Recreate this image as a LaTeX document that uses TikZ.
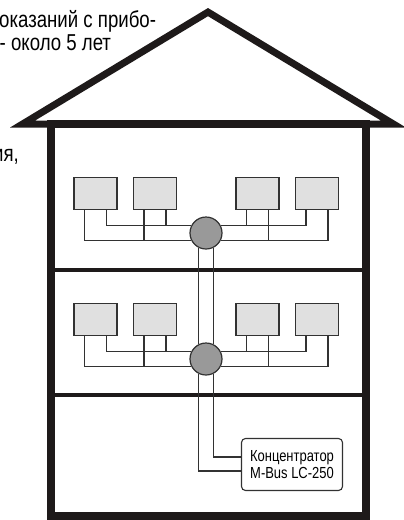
\documentclass[tikz,border=0pt]{standalone}
\usepackage{fontspec}
\newfontfamily\narrowsans[FakeStretch=0.81]{Liberation Sans}
\usetikzlibrary{calc}

\definecolor{wall}{RGB}{30,26,26}
\definecolor{wire}{RGB}{50,50,50}
\definecolor{meterfill}{RGB}{224,224,224}
\definecolor{hubfill}{RGB}{153,153,153}

\begin{document}
\begin{tikzpicture}[x=1pt, y=-1pt,
		meter/.style={draw=wire, fill=meterfill, line width=1.1pt, minimum width=43pt, minimum height=32pt, inner sep=0pt},
		hub/.style={circle, draw=wire, fill=hubfill, line width=1.2pt, minimum size=32pt, inner sep=0pt},
		cable/.style={draw=wire, line width=1.2pt},
		conc/.style={draw=wire, fill=white, rounded corners=4pt, line width=1.1pt, minimum width=101pt, minimum height=52pt, inner sep=0pt, align=center, font=\narrowsans\fontsize{16}{16.5}\selectfont},
		note/.style={inner sep=0pt, font=\narrowsans\fontsize{23}{23}\selectfont}]
		\useasboundingbox (0,0) rectangle (404,520);
		\clip (0,0) rectangle (404,520);

		% text cut off at the left edge
		\node [note, anchor=base west] (txt1) at (-1,27) {оказаний с прибо-};
		\node [note, anchor=base west] (txt2) at (-0.5,50) {- около 5 лет};
		\node [note, anchor=base east] (txt3) at (19,161) {ия,};

		% roof and walls
		\coordinate (eaveL) at (22.6,124);
		\coordinate (ridge) at (208,12.1);
		\coordinate (eaveR) at (393.4,124);
		\draw [wall, line width = 7pt, line join = miter] (eaveL) -- (ridge) -- (eaveR) -- cycle;
		\draw [wall, line width = 8pt] (51,124) rectangle (366,516);
		\draw [wall, line width = 4.5pt] (51,270) -- (366,270);
		\draw [wall, line width = 4.5pt] (51,395) -- (366,395);

		% two floors of meters
		\foreach \f/\y in {1/0, 2/126} {
			\node [meter] (m1\f) at (95.5,193.5+\y) {};
			\node [meter] (m2\f) at (155,193.5+\y) {};
			\node [meter] (m3\f) at (257.5,193.5+\y) {};
			\node [meter] (m4\f) at (317,193.5+\y) {};
			\node [hub] (hub\f) at (206,233+\y) {};

			\draw [cable] ([xshift = -11pt]m1\f.south) |- (hub\f.207);
			\draw [cable] ([xshift = 11pt]m1\f.south) |- (hub\f.153);
			\draw [cable] ([xshift = -11pt]m2\f.south) |- (hub\f.207);
			\draw [cable] ([xshift = 11pt]m2\f.south) |- (hub\f.153);
			\draw [cable] ([xshift = -11pt]m3\f.south) |- (hub\f.27);
			\draw [cable] ([xshift = 11pt]m3\f.south) |- (hub\f.333);
			\draw [cable] ([xshift = -11pt]m4\f.south) |- (hub\f.27);
			\draw [cable] ([xshift = 11pt]m4\f.south) |- (hub\f.333);
		}

		\draw [cable] (hub1.243) -- (hub2.117);
		\draw [cable] (hub1.297) -- (hub2.63);

		% concentrator in the basement
		\node [conc] (conc) at (292,464.5) {Концентратор\\M-Bus LC-250};
		\draw [cable] (hub2.243) |- ([yshift = -6.5pt]conc.west);
		\draw [cable] (hub2.297) |- ([yshift = 7.5pt]conc.west);
	\end{tikzpicture}
\end{document}
